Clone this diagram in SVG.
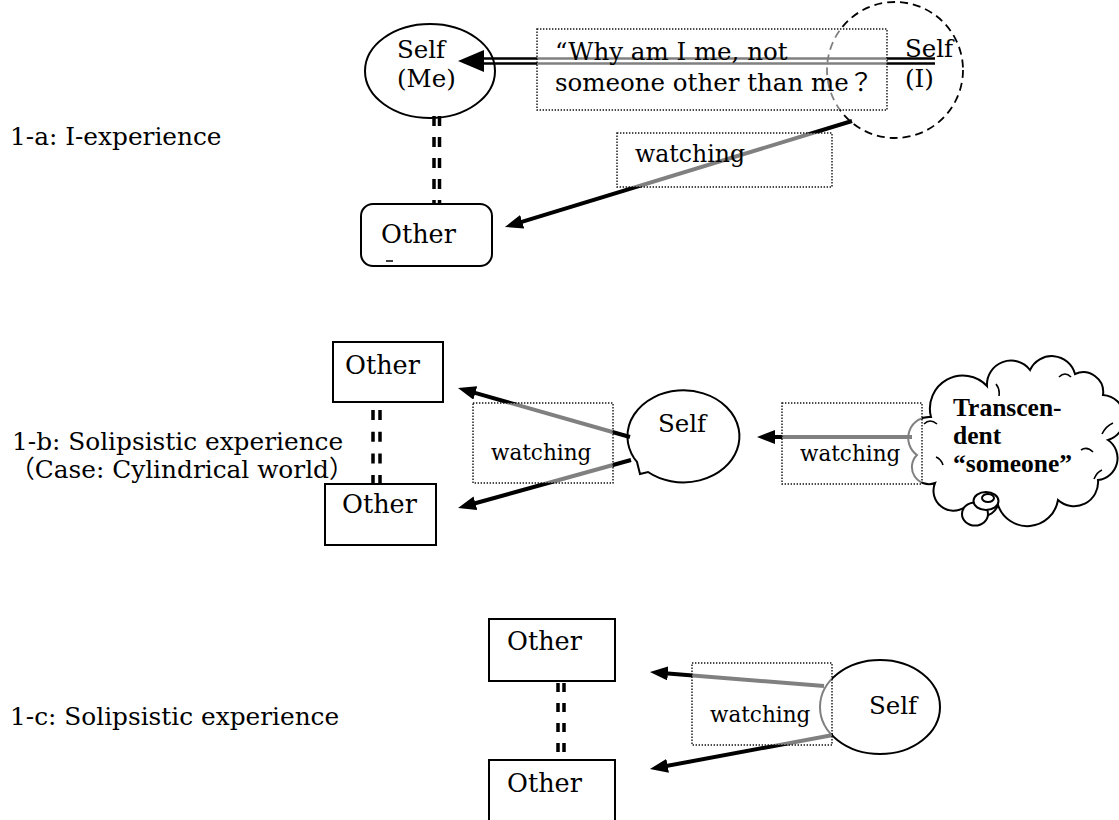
<svg xmlns="http://www.w3.org/2000/svg" width="1119" height="820" viewBox="0 0 1119 820">
<defs>
<style>
text{font-family:"DejaVu Serif","Noto Sans CJK JP",serif;font-size:24.5px;fill:#000}
.lbl{font-size:24.8px}
.sm{font-size:21.5px}
.wt{font-size:23.6px}
.oth{font-size:25.5px}
.cl{font-family:"Liberation Serif","Noto Sans CJK JP",serif;font-weight:bold;font-size:25.5px}
.sh{fill:#fff;stroke:#000;stroke-width:2}
.tb{fill:#fff;fill-opacity:.5;stroke:#111;stroke-width:1.4;stroke-dasharray:1.4 1.6}
.ar{fill:none;stroke:#000;stroke-width:4;marker-end:url(#ah)}
.dl{fill:none;stroke:#000;stroke-width:3.5}
.dbl{fill:none;stroke:#000;stroke-width:2.5}
.thin{fill:none;stroke:#000;stroke-width:1.6}
</style>
<marker id="ah" markerUnits="userSpaceOnUse" viewBox="0 0 18 14" markerWidth="18" markerHeight="14" refX="3" refY="7" orient="auto"><path d="M0,0 L18,7 L0,14 Z" fill="#000"/></marker>
</defs>
<rect width="1119" height="820" fill="#fff"/>

<g id="label-1a"><text class="lbl" x="10" y="145">1-a: I-experience</text></g>
<g id="label-1b"><text class="lbl" x="12" y="450">1-b: Solipsistic experience</text><text class="lbl" x="10" y="478">（Case: Cylindrical world）</text></g>
<g id="label-1c"><text class="lbl" x="10" y="725">1-c: Solipsistic experience</text></g>

<!-- 1-a nodes -->
<g id="a-self-me"><ellipse class="sh" cx="430" cy="71" rx="65" ry="47"/><text x="397" y="58">Self</text><text x="397" y="87">(Me)</text></g>
<g id="a-self-i"><ellipse cx="895" cy="70" rx="68" ry="68" fill="#fff" stroke="#000" stroke-width="1.8" stroke-dasharray="8 5"/><text x="905" y="57">Self</text><text x="905" y="87">(I)</text></g>
<g id="a-other"><rect class="sh" x="361" y="204" width="131" height="62" rx="12"/><text class="oth" x="381" y="243">Other</text><line x1="386" y1="261" x2="393" y2="261" stroke="#000" stroke-width="1.5"/></g>

<!-- 1-b nodes -->
<g id="b-other-top"><rect class="sh" x="333" y="342" width="110" height="60"/><text class="oth" x="345" y="374">Other</text></g>
<g id="b-other-bottom"><rect class="sh" x="325" y="484" width="111" height="61"/><text class="oth" x="342" y="513">Other</text></g>
<g id="b-self"><path class="sh" d="M634,458 A56,46 0 1,1 648,472 L640,474 L637,462 Z"/><text x="658" y="432">Self</text></g>
<g id="b-someone">
<path class="sh" d="M917,455 A21,21 0 0,1 931,417 A33,33 0 0,1 987,386 A24,24 0 0,1 1030,370 A24,24 0 0,1 1075,374 A20,20 0 0,1 1103,395 A23,23 0 0,1 1108,440 A22,22 0 0,1 1098,480 A24,24 0 0,1 1058,500 A31,31 0 0,1 998,505 A18,18 0 0,1 965,507 A20,20 0 0,1 935,483 A17,17 0 0,1 917,455 Z"/>
<path class="thin" d="M924,424 Q930,418 937,424 M996,384 Q1000,389 999,396 M1059,377 Q1065,371 1071,377 M1102,434 Q1106,426 1113,423 M1081,450 Q1087,446 1093,452 M1094,479 Q1097,472 1102,470 M936,457 Q941,459 943,465"/>
<ellipse class="sh" cx="975" cy="514" rx="13" ry="11.5"/>
<ellipse class="sh" cx="986" cy="501" rx="12.5" ry="9"/>
<ellipse class="sh" cx="988" cy="498" rx="6" ry="4"/>
<text class="cl" x="953" y="416">Transcen-</text><text class="cl" x="953" y="444">dent</text><text class="cl" x="953" y="472">“someone”</text>
</g>

<!-- 1-c nodes -->
<g id="c-other-top"><rect class="sh" x="489" y="619" width="126" height="62"/><text class="oth" x="507" y="650">Other</text></g>
<g id="c-other-bottom"><rect class="sh" x="489" y="760" width="126" height="70"/><text class="oth" x="507" y="792">Other</text></g>
<g id="c-self"><ellipse class="sh" cx="880" cy="707" rx="60" ry="47"/><text x="869" y="714">Self</text></g>

<!-- connectors -->
<g id="connectors">
<line class="dbl" x1="481" y1="58.5" x2="935" y2="58.5"/>
<line class="dbl" x1="481" y1="63.5" x2="935" y2="63.5"/>
<polygon points="458,61 484,50 484,72" fill="#000"/>
<line class="ar" x1="852" y1="121" x2="519.3" y2="222.6"/>
<line class="dl" x1="434" y1="116" x2="434" y2="204" stroke-dasharray="10 11"/>
<line class="dl" x1="439.5" y1="116" x2="439.5" y2="204" stroke-dasharray="10 11"/>

<line class="ar" x1="630" y1="437" x2="472.4" y2="392.1"/>
<line class="ar" x1="631" y1="460" x2="472.5" y2="504"/>
<line class="ar" x1="912" y1="437" x2="772" y2="437"/>
<line class="dl" x1="373" y1="410" x2="373" y2="485" stroke-dasharray="10 11.7"/>
<line class="dl" x1="380" y1="410" x2="380" y2="485" stroke-dasharray="10 11.7"/>

<line class="ar" x1="824" y1="686" x2="664.9" y2="673.2"/>
<line class="ar" x1="833" y1="735" x2="664.7" y2="766.3"/>
<line class="dl" x1="558" y1="683" x2="558" y2="760" stroke-dasharray="9 11"/>
<line class="dl" x1="564" y1="683" x2="564" y2="760" stroke-dasharray="9 11"/>
</g>

<!-- dotted label boxes -->
<g id="a-question"><rect class="tb" x="537" y="29" width="350" height="81"/><text x="555" y="60">“Why am I me, not</text><text x="555" y="91">someone other than me？</text></g>
<g id="a-watching"><rect class="tb" x="617" y="133" width="215" height="54"/><text class="wt" x="635" y="162">watching</text></g>
<g id="b-watching-left"><rect class="tb" x="473" y="403" width="140" height="80"/><text class="sm" x="491" y="460">watching</text></g>
<g id="b-watching-right"><rect class="tb" x="782" y="403" width="140" height="81"/><text class="sm" x="800" y="461">watching</text></g>
<g id="c-watching"><rect class="tb" x="692" y="663" width="140" height="82"/><text class="sm" x="710" y="722">watching</text></g>
</svg>
